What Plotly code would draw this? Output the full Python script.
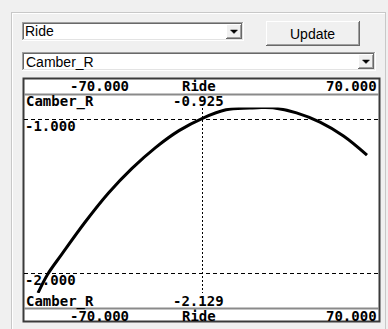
import plotly.graph_objects as go

# ---- data ----
ride = [-70, -66, -60, -50, -40, -30, -20, -10, 0, 10, 20, 25, 30, 40, 50, 60, 70]
camber_r = [-2.129, -2.01, -1.88, -1.67, -1.48, -1.32, -1.185, -1.075, -0.995,
            -0.94, -0.929, -0.925, -0.927, -0.96, -1.02, -1.11, -1.234]
y_grid = [-1.0, -2.0]
x_cursor = [0]
x_name = "Ride"
y_name = "Camber_R"
combo1_text = "Ride"
combo2_text = "Camber_R"
button_text = "Update"

W, H = 388, 329


def X(p):
    return p / W


def Y(p):
    return 1 - p / H


shapes = []


def box(x0, y0, x1, y1, fill, line=None, lw=0):
    shapes.append(dict(type="rect", xref="paper", yref="paper",
                       x0=X(x0), x1=X(x1), y0=Y(y1), y1=Y(y0),
                       fillcolor=fill,
                       line=dict(color=line or fill, width=lw), layer="below"))


def hline(x0, x1, y, color, lw=1):
    shapes.append(dict(type="line", xref="paper", yref="paper",
                       x0=X(x0), x1=X(x1), y0=Y(y), y1=Y(y),
                       line=dict(color=color, width=lw), layer="below"))


def vline(x, y0, y1, color, lw=1):
    shapes.append(dict(type="line", xref="paper", yref="paper",
                       x0=X(x), x1=X(x), y0=Y(y0), y1=Y(y1),
                       line=dict(color=color, width=lw), layer="below"))


def sunken(x0, y0, x1, y1):
    box(x0, y0, x1, y1, "#ffffff")
    hline(x0, x1, y0 + 0.5, "#a0a0a0")
    vline(x0 + 0.5, y0, y1, "#a0a0a0")
    hline(x0 + 1, x1 - 1, y0 + 1.5, "#696969")
    vline(x0 + 1.5, y0 + 1, y1 - 1, "#696969")
    hline(x0, x1, y1 - 0.5, "#ffffff")
    vline(x1 - 0.5, y0, y1, "#ffffff")
    hline(x0 + 1, x1 - 1, y1 - 1.5, "#e3e3e3")
    vline(x1 - 1.5, y0 + 1, y1 - 1, "#e3e3e3")


def raised(x0, y0, x1, y1):
    box(x0, y0, x1, y1, "#f0f0f0")
    hline(x0, x1, y0 + 0.5, "#ffffff")
    vline(x0 + 0.5, y0, y1, "#ffffff")
    hline(x0, x1, y1 - 0.5, "#696969")
    vline(x1 - 0.5, y0, y1, "#696969")
    hline(x0 + 1, x1 - 1, y1 - 1.5, "#a0a0a0")
    vline(x1 - 1.5, y0 + 1, y1 - 1, "#a0a0a0")


def arrow(cx, cy):
    pts = [(cx - 3.5, cy - 1.5), (cx + 3.5, cy - 1.5), (cx, cy + 2)]
    path = "M " + " L ".join(f"{X(a)},{Y(b)}" for a, b in pts) + " Z"
    shapes.append(dict(type="path", xref="paper", yref="paper", path=path,
                       fillcolor="#000000", line=dict(color="#000000", width=0.5),
                       layer="below"))


# group box edges
hline(11, 386, 12.5, "#c8c8c8")
hline(12, 385, 13.5, "#ffffff")
vline(11.5, 12, 329, "#c8c8c8")
vline(12.5, 13, 329, "#ffffff")
vline(385.5, 12, 329, "#c8c8c8")

# combo 1 with drop button
sunken(22, 22, 244, 41)
raised(226, 24, 242, 39)
arrow(234, 31.5)

# Update button
raised(266, 21, 360, 46)

# combo 2 with drop button
sunken(22, 52, 376, 71)
raised(358, 54, 374, 69)
arrow(366, 61.5)

# chart frame
box(23, 78, 380, 322, "#ffffff")
shapes.append(dict(type="rect", xref="paper", yref="paper",
                   x0=X(23.5), x1=X(379.5), y0=Y(321.5), y1=Y(78.5),
                   fillcolor="rgba(0,0,0,0)", line=dict(color="#3a3a3a", width=2),
                   layer="below"))
hline(24, 379, 94.5, "#8a8a8a", 2)
hline(24, 379, 308.5, "#8a8a8a", 2)

# ---- figure ----
fig = go.Figure()
fig.add_trace(go.Scatter(x=ride, y=camber_r, mode="lines",
                         line=dict(color="#000000", width=3, shape="spline", smoothing=1.0),
                         cliponaxis=False, hoverinfo="skip", showlegend=False))

# axis geometry: pixel mapping of the data area
x_px0, x_px1 = 24, 379          # gridline extent (px)
x_zero_px, x_scale = 202.5, 2.35  # px of x=0, px per unit
y_px_top, y_px_bot = 107.5, 293   # px of max / min value
x_range = [(x_px0 - x_zero_px) / x_scale, (x_px1 - x_zero_px) / x_scale]
y_range = [min(camber_r), max(camber_r)]

mono = dict(family="DejaVu Sans Mono", size=14, color="#000000", weight="bold")
ui = dict(family="Liberation Sans", size=14, color="#000000")

ann = []


def text(t, px, py, anchor="center", font=mono):
    ann.append(dict(text=t, x=X(px), y=Y(py), xref="paper", yref="paper",
                    xanchor=anchor, yanchor="middle", showarrow=False, font=font,
                    borderpad=0))


fmt = lambda v: f"{v:.3f}"

for row_y in (86.0, 316.0):
    text(fmt(min(ride)), 99, row_y)
    text(x_name, 199, row_y)
    text(fmt(max(ride)), 378, row_y, "right")

text(y_name, 25, 101.0, "left")
text(fmt(max(camber_r)), 198, 101.0)
text(y_name, 25, 301, "left")
text(fmt(min(camber_r)), 198, 301)

for g in y_grid:
    gy = y_px_top + (max(camber_r) - g) / (max(camber_r) - min(camber_r)) * (y_px_bot - y_px_top)
    text(fmt(g), 24, gy + 7, "left")

text(combo1_text, 24, 31.5, "left", ui)
text(combo2_text, 25, 61.5, "left", ui)
text(button_text, 312, 33.5, "center", ui)

fig.update_layout(
    width=W, height=H, autosize=False,
    margin=dict(l=0, r=0, t=0, b=0, pad=0),
    paper_bgcolor="#f0f0f0", plot_bgcolor="rgba(0,0,0,0)",
    shapes=shapes, annotations=ann, showlegend=False,
    xaxis=dict(domain=[X(x_px0), X(x_px1)], range=x_range,
               tickvals=x_cursor, showgrid=True, gridcolor="#000000", gridwidth=1,
               griddash="2px,2px", zeroline=False, showticklabels=False,
               ticks="", showline=False, fixedrange=True),
    yaxis=dict(domain=[Y(y_px_bot), Y(y_px_top)], range=y_range,
               tickvals=y_grid, showgrid=True, gridcolor="#000000", gridwidth=1,
               griddash="4px,3px", zeroline=False, showticklabels=False,
               ticks="", showline=False, fixedrange=True),
)

fig.write_html("out.html", config=dict(displayModeBar=False),
               post_script="document.body.style.margin='0';document.body.style.overflow='hidden';")
